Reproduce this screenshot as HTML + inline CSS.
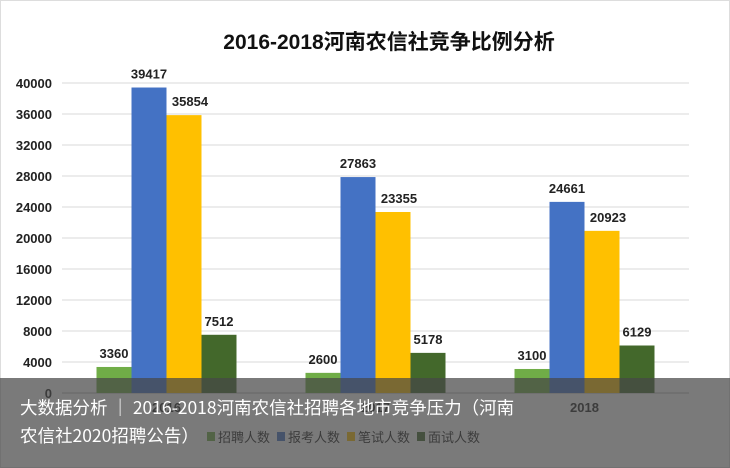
<!DOCTYPE html>
<html><head><meta charset="utf-8">
<style>
body{margin:0;width:730px;height:468px;overflow:hidden;background:#fff;font-family:"Liberation Sans","Noto Sans CJK SC",sans-serif;}
#wrap{position:relative;width:730px;height:468px;}
svg{position:absolute;left:0;top:0;}
#overlay{position:absolute;left:0;top:378px;width:730px;height:90px;background:rgba(70,70,70,0.72);}
#cap{position:absolute;left:20px;top:394px;color:#fff;font-size:17.5px;line-height:28px;font-family:"Noto Sans CJK SC","WenQuanYi Zen Hei",sans-serif;}
</style></head><body>
<div id="wrap">
<svg id="chart" width="730" height="468">
<rect x="0.5" y="0.5" width="729" height="467" fill="#fff" stroke="#ddd"/>
<text x="389" y="49" text-anchor="middle" font-size="21" font-weight="bold" fill="#111" font-family="Liberation Sans,Noto Sans CJK SC,sans-serif">2016-2018河南农信社竞争比例分析</text>
<g id="grid"></g><g id="bars"></g><g id="labels"></g>
</svg>
<div id="overlay"></div>
<div id="cap">大数据分析 ｜ 2016-2018河南农信社招聘各地市竞争压力（河南<br>农信社2020招聘公告）</div>
</div>
<script>
const categories=["2016","2017","2018"];
const recruit=[3360,2600,3100];
const applicants=[39417,27863,24661];
const written=[35854,23355,20923];
const interview=[7512,5178,6129];
const seriesNames=["招聘人数","报考人数","笔试人数","面试人数"];
const yTicks=[0,4000,8000,12000,16000,20000,24000,28000,32000,36000,40000];
const colors=["#70ad47","#4472c4","#ffc000","#43682b"];
const NS="http://www.w3.org/2000/svg";
const x0=62,x1=689,yBase=393,yTop=83,yMax=40000;
const y=v=>yBase-(v/yMax)*(yBase-yTop);
const cw=(x1-x0)/categories.length;
const bw=35;
function mk(t,a,p){const e=document.createElementNS(NS,t);for(const k in a)e.setAttribute(k,a[k]);p.appendChild(e);return e;}
const grid=document.getElementById('grid'),bars=document.getElementById('bars'),labels=document.getElementById('labels');
yTicks.forEach(v=>{
  const l=mk('line',{x1:x0,x2:x1,y1:y(v),y2:y(v),stroke:v===0?'#bbb':'#d9d9d9','stroke-width':1},grid);
  
  
  const t=mk('text',{x:52,y:y(v)+5,'text-anchor':'end','font-size':13,'font-weight':'bold',fill:'#222'},grid);
  t.textContent=v;
  
  
});
const series=[recruit,applicants,written,interview];
categories.forEach((c,i)=>{
  const cx=x0+cw*(i+0.5);
  series.forEach((s,j)=>{
    const bx=cx-2*bw+j*bw;
    const r=mk('rect',{x:bx,y:y(s[i]),width:bw,height:yBase-y(s[i]),fill:colors[j]},bars);
    
    
    const t=mk('text',{x:bx+bw/2+(j==2?6:0),y:y(s[i])-9,'text-anchor':'middle','font-size':13,'font-weight':'bold',fill:'#222'},labels);
    t.textContent=s[i];
    
    
  });
  const ct=mk('text',{x:cx,y:yBase+19,'text-anchor':'middle','font-size':13,'font-weight':'bold',fill:'#222'},labels);
  ct.textContent=c;
  
  
});
let lx=207;
seriesNames.forEach((n,j)=>{
  const g=mk('g',{},labels);
  
  
  mk('rect',{x:lx,y:432,width:8,height:9,fill:colors[j]},g);
  const t=mk('text',{x:lx+11,y:442,'font-size':13,fill:'#222','font-family':'Noto Sans CJK SC,sans-serif'},g);
  t.textContent=n;
  lx+=70;
});
</script>
</body></html>
